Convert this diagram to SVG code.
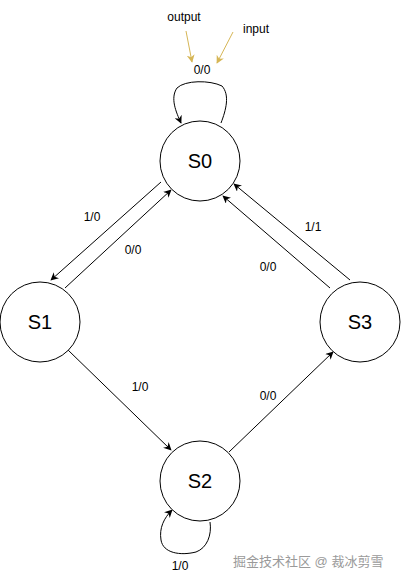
<svg xmlns="http://www.w3.org/2000/svg" width="402" height="582" viewBox="0 0 402 582">
<style>
.st{fill:#fff;stroke:#000;stroke-width:1}
.sl{font-family:"Liberation Sans",Arial,sans-serif;font-size:20px;text-anchor:middle;fill:#000}
.lb{font-family:"Liberation Sans",Arial,sans-serif;font-size:12px;text-anchor:middle;fill:#000}
.ed{fill:none;stroke:#000;stroke-width:1;marker-end:url(#ah)}
.yl{fill:none;stroke:#d6b656;stroke-width:1;marker-end:url(#ay)}
.wm{font-family:"Liberation Sans","Noto Sans CJK SC",sans-serif;font-size:13px;fill:#9a9a9a}
</style>
<defs>
<marker id="ah" viewBox="0 0 10 10" refX="9" refY="5" markerWidth="8" markerHeight="8" orient="auto" markerUnits="userSpaceOnUse">
<path d="M0,0 L10,5 L0,10 L3,5 Z" fill="#000"/>
</marker>
<marker id="ay" viewBox="0 0 10 10" refX="9" refY="5" markerWidth="8" markerHeight="8" orient="auto" markerUnits="userSpaceOnUse">
<path d="M0,0 L10,5 L0,10 L3,5 Z" fill="#d6b656"/>
</marker>
</defs>
<rect width="402" height="582" fill="#fff"/>
<g id="connectors">
<path class="ed" d="M221,123 C226,110 230,95 222,86 C210,80 185,80 177,88 C170,98 176,112 181,123"/>
<path class="ed" d="M161,182 L51,280"/>
<path class="ed" d="M65,288 L171,190"/>
<path class="ed" d="M350,280 L234,184"/>
<path class="ed" d="M330,288 L223,196"/>
<path class="ed" d="M68,350 L171,450"/>
<path class="ed" d="M229,452 L333,352"/>
<path class="ed" d="M210,522 C212,535 207,548 196,552 C180,556 163,553 161,540 C159,528 164,518 172,510"/>
<path class="yl" d="M186,31 L192,62"/>
<path class="yl" d="M233,32 L217,63"/>
</g>
<g id="S0"><circle class="st" cx="200" cy="161" r="40"/><text class="sl" x="200" y="168">S0</text></g>
<g id="S1"><circle class="st" cx="40" cy="322" r="40"/><text class="sl" x="40" y="329">S1</text></g>
<g id="S2"><circle class="st" cx="200" cy="481" r="40"/><text class="sl" x="200" y="488">S2</text></g>
<g id="S3"><circle class="st" cx="360" cy="322" r="40"/><text class="sl" x="360" y="329">S3</text></g>
<g id="labels">
<text class="lb" x="202" y="74">0/0</text>
<text class="lb" x="184" y="21">output</text>
<text class="lb" x="256" y="33">input</text>
<text class="lb" x="92" y="221">1/0</text>
<text class="lb" x="133" y="254">0/0</text>
<text class="lb" x="313" y="231">1/1</text>
<text class="lb" x="268" y="271">0/0</text>
<text class="lb" x="140" y="391">1/0</text>
<text class="lb" x="268" y="400">0/0</text>
<text class="lb" x="180" y="570">1/0</text>
</g>
<text class="wm" x="233" y="566">掘金技术社区 @ 裁冰剪雪</text>
</svg>
